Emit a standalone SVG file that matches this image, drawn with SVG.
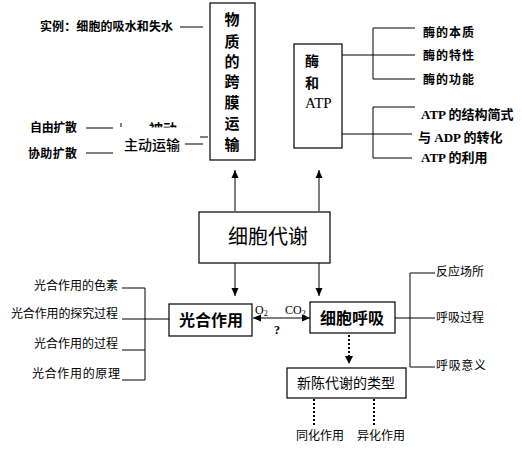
<svg xmlns="http://www.w3.org/2000/svg" width="522" height="455" viewBox="0 0 522 455">
<defs>
<style>
.b{fill:none;stroke:#000;stroke-width:1.2}
.l{fill:none;stroke:#000;stroke-width:1}
.d{fill:none;stroke:#000;stroke-width:2;stroke-dasharray:2 2}
.t{font-family:"Noto Sans CJK SC","Liberation Sans",sans-serif;fill:#000}
.s{font-family:"Liberation Serif","Noto Sans CJK SC",serif;fill:#000}
.bd{font-weight:bold}
</style>
<marker id="ah" viewBox="0 0 8 8" refX="8" refY="4" markerWidth="8" markerHeight="8" markerUnits="userSpaceOnUse" orient="auto-start-reverse">
<path d="M0,0.5 L8,4 L0,7.5 Z" fill="#000"/>
</marker>
<clipPath id="cp"><rect x="140" y="100" width="50" height="27.5"/></clipPath>
</defs>
<rect width="522" height="455" fill="#fff"/>

<g id="connectors">
<line class="l" x1="180" y1="27" x2="203" y2="27"/>
<line class="l" x1="86" y1="128" x2="113" y2="128"/>
<line class="l" x1="121" y1="123" x2="121" y2="127"/>
<line class="l" x1="86" y1="153" x2="113" y2="153"/>
<line class="l" x1="185" y1="144" x2="203" y2="144"/>
<line class="l" x1="200" y1="137" x2="208" y2="137"/>
<line class="l" x1="235" y1="211" x2="235" y2="170" marker-end="url(#ah)"/>
<line class="l" x1="319" y1="211" x2="319" y2="170" marker-end="url(#ah)"/>
<line class="l" x1="235" y1="263" x2="235" y2="296" marker-end="url(#ah)"/>
<line class="l" x1="319" y1="263" x2="319" y2="296" marker-end="url(#ah)"/>
<line class="l" x1="253" y1="318" x2="310" y2="318" marker-start="url(#ah)" marker-end="url(#ah)"/>
<path class="l" d="M342,55 H373 M373,28 V79 M373,28 H415 M373,55 H415 M373,79 H415"/>
<path class="l" d="M342,134 H373 M373,107 V158 M373,107 H415 M373,134 H412 M373,158 H412"/>
<path class="l" d="M122,288 H145 V380 H122 M122,319 H169 M122,350 H145"/>
<path class="l" d="M395,318 H435 M410,273 V367 M410,273 H435 M410,367 H435"/>
<line class="d" x1="349" y1="335" x2="349" y2="358"/>
<path d="M345,356 L353,356 L349,364 Z" fill="#000"/>
<line class="d" x1="314" y1="399" x2="314" y2="425"/>
<line class="d" x1="374" y1="399" x2="374" y2="425"/>
</g>

<g id="n-transport">
<rect class="b" x="210" y="3" width="45" height="157"/>
<g class="t bd" font-size="15" text-anchor="middle">
<text x="232" y="25">物</text>
<text x="232" y="47">质</text>
<text x="232" y="67">的</text>
<text x="232" y="87">跨</text>
<text x="232" y="108">膜</text>
<text x="232" y="129">运</text>
<text x="232" y="150">输</text>
</g>
</g>

<g id="n-example"><text class="t bd" x="40" y="31" font-size="12" textLength="133">实例：细胞的吸水和失水</text></g>
<g id="n-free"><text class="t bd" x="30" y="132" font-size="12" textLength="47">自由扩散</text></g>
<g id="n-assist"><text class="t bd" x="28" y="158" font-size="12" textLength="49">协助扩散</text></g>
<g id="n-passive"><text class="t bd" x="149" y="134" font-size="14" clip-path="url(#cp)">被动</text></g>
<g id="n-active"><text class="t" x="124" y="150" font-size="14" textLength="56" font-weight="500">主动运输</text></g>

<g id="n-enzyme">
<rect class="b" x="294" y="44" width="48" height="104"/>
<text class="t bd" x="305" y="66" font-size="14">酶</text>
<text class="t bd" x="305" y="88" font-size="14">和</text>
<text class="s" x="305" y="108" font-size="15">ATP</text>
</g>
<g id="n-e1"><text class="t bd" x="423" y="37" font-size="12" textLength="51">酶的本质</text></g>
<g id="n-e2"><text class="t bd" x="423" y="60" font-size="12" textLength="51">酶的特性</text></g>
<g id="n-e3"><text class="t bd" x="423" y="84" font-size="12" textLength="51">酶的功能</text></g>
<g id="n-a1"><text class="s bd" x="421" y="119" font-size="13">ATP 的结构简式</text></g>
<g id="n-a2"><text class="s bd" x="418" y="142" font-size="13">与 ADP 的转化</text></g>
<g id="n-a3"><text class="s bd" x="421" y="162" font-size="13">ATP 的利用</text></g>

<g id="n-metab">
<rect class="b" x="199" y="212" width="131" height="51"/>
<text class="t" x="268" y="244" font-size="20" text-anchor="middle">细胞代谢</text>
</g>

<g id="n-photo">
<rect class="b" x="169" y="304" width="83" height="32"/>
<text class="t bd" x="211" y="326" font-size="16" text-anchor="middle">光合作用</text>
</g>
<g id="n-resp">
<rect class="b" x="310" y="302" width="85" height="31"/>
<text class="t bd" x="352" y="324" font-size="16" text-anchor="middle">细胞呼吸</text>
</g>
<g id="n-gas">
<text class="s" x="255" y="314" font-size="12">O<tspan font-size="8" dy="2">2</tspan></text>
<text class="s" x="285" y="314" font-size="12">CO<tspan font-size="8" dy="2">2</tspan></text>
<text class="s bd" x="274" y="334" font-size="12">?</text>
</g>

<g id="n-p1"><text class="t" x="118" y="290" font-size="12" text-anchor="end">光合作用的色素</text></g>
<g id="n-p2"><text class="t" x="118" y="318" font-size="12" text-anchor="end" textLength="107">光合作用的探究过程</text></g>
<g id="n-p3"><text class="t" x="118" y="348" font-size="12" text-anchor="end">光合作用的过程</text></g>
<g id="n-p4"><text class="t" x="120" y="378" font-size="12" text-anchor="end" textLength="88">光合作用的原理</text></g>

<g id="n-r1"><text class="t" x="436" y="276" font-size="12">反应场所</text></g>
<g id="n-r2"><text class="t" x="436" y="322" font-size="12">呼吸过程</text></g>
<g id="n-r3"><text class="t" x="436" y="370" font-size="12" textLength="50">呼吸意义</text></g>

<g id="n-types">
<rect class="b" x="287" y="368" width="119" height="30"/>
<text class="t" x="346" y="388" font-size="14" text-anchor="middle">新陈代谢的类型</text>
</g>
<g id="n-anab"><text class="t" x="296" y="440" font-size="12">同化作用</text></g>
<g id="n-catab"><text class="t" x="357" y="440" font-size="12">异化作用</text></g>
</svg>
